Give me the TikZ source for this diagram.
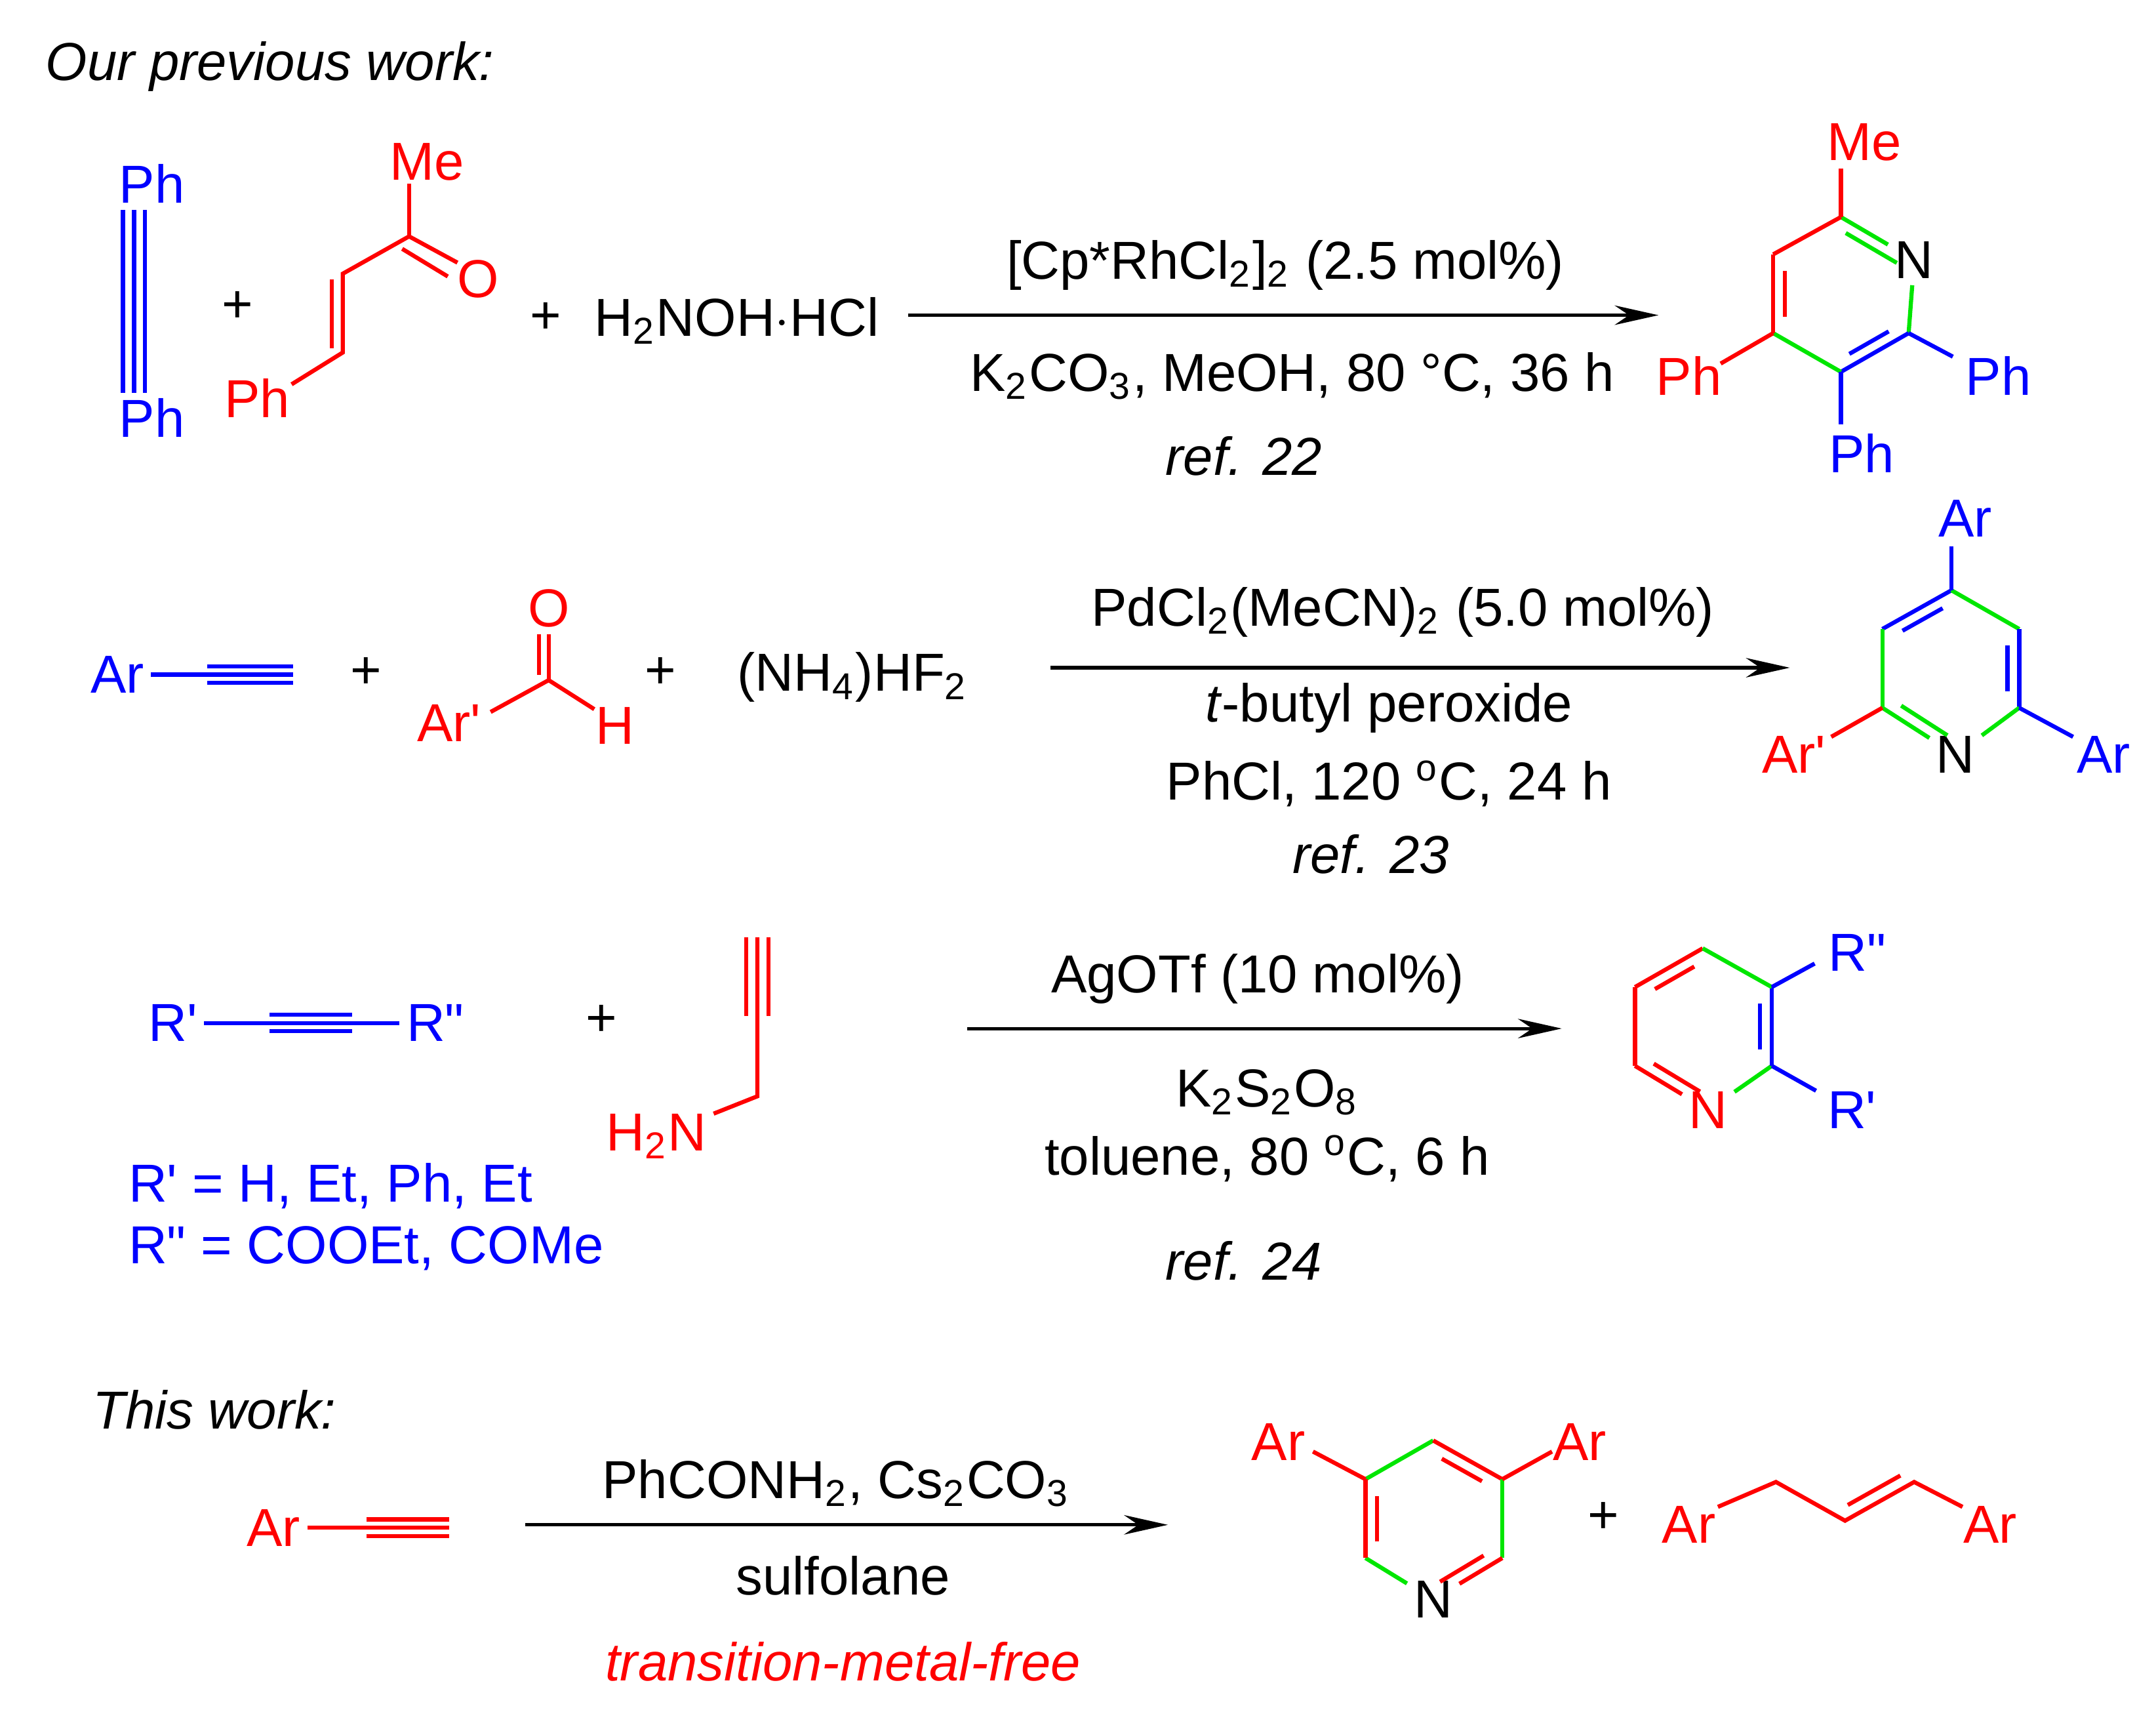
\documentclass[tikz,border=0pt]{standalone}
\usepackage{fontspec}
\setmainfont{Liberation Sans}[Ligatures=TeXOff]
\usetikzlibrary{calc,arrows.meta}
\definecolor{cr}{RGB}{255,0,0}
\definecolor{cb}{RGB}{0,0,255}
\definecolor{cg}{RGB}{0,230,0}
\newcommand\innerb[5]{\draw[#5] ($($(#1)!#4!(#2)$)!0.17!(#3)$) -- ($($(#2)!#4!(#1)$)!0.17!(#3)$);}
\newcommand\sq{\symbol{39}}
\newcommand\dq{\symbol{34}}
\begin{document}
\begin{tikzpicture}[x=0.01cm,y=-0.01cm,line width=0.85pt,
  every node/.style={font=\fontsize{11}{13}\selectfont,inner sep=1pt},
  itl/.style={font=\fontsize{11}{13}\selectfont\itshape},
  rxn/.style={-{Stealth[length=9pt,width=4pt]},line width=0.7pt}]
\useasboundingbox (0,0) rectangle (1560,1249);
\node[itl,anchor=west] (t1) at (28,48) {Our previous work:};
% --- scheme 1
\node[cb] (ph1) at (110,133) {Ph};
\node[cb] (ph2) at (110,302) {Ph};
\foreach \d in {-8,0,8}{\draw[cb] (97+\d,152) -- (97+\d,284);}
\node (p1) at (172,222) {+};
\coordinate (c1) at (296,171); \coordinate (c2) at (248,198); \coordinate (c3) at (248,255);
\node[cr] (me1) at (309,117) {Me};
\node[cr] (o1) at (346,202) {O};
\node[cr] (ph3) at (186,288) {Ph};
\draw[cr] (c1) -- ++(0,-38);
\draw[cr] (c1) -- (331,190);
\draw[cr] ($(c1)+(-5,9)$) -- (324,200);
\draw[cr] (c1) -- (c2) -- (c3) -- (211,278);
\draw[cr] ($(c2)+(-8,4)$) -- ($(c3)+(-8,-3)$);
\node (p2) at (395,230) {+};
\node (hx) at (533,232) {H\textsubscript{2}NOH$\cdot$HCl};
\coordinate (a1s) at (657,228); \coordinate (a1e) at (1200,228);
\draw[rxn] (a1s) -- (a1e);
\node (r1a) at (930,192) {[Cp*RhCl\textsubscript{2}]\textsubscript{2} (2.5 mol\%)};
\node (r1b) at (935,272) {K\textsubscript{2}CO\textsubscript{3}, MeOH, 80 °C, 36 h};
\node[itl] (r1c) at (900,330) {ref. 22};
% pyridine 1
\coordinate (A) at (1332,157); \node (N1) at (1385,188) {N};
\coordinate (B) at (1381,241); \coordinate (C) at (1332,269); \coordinate (D) at (1283,241); \coordinate (E) at (1283,184);
\coordinate (P1) at (1332,213);
\draw[cg] (A) -- (N1); \draw[cg] (N1) -- (B);
\innerb{A}{N1}{P1}{0.08}{cg}
\draw[cb] (B) -- (C); \innerb{B}{C}{P1}{0.15}{cb}
\draw[cg] (C) -- (D);
\draw[cr] (D) -- (E); \innerb{D}{E}{P1}{0.15}{cr}
\draw[cr] (E) -- (A);
\node[cr] (me2) at (1349,103) {Me};
\draw[cr] (A) -- (1332,122);
\node[cr] (ph4) at (1222,272) {Ph};
\draw[cr] (D) -- (1245,263);
\node[cb] (ph5) at (1446,272) {Ph};
\draw[cb] (B) -- (1413,258);
\node[cb] (ph6) at (1347,328) {Ph};
\draw[cb] (C) -- (1332,307);
% --- scheme 2
\node[cb] (ar1) at (85,488) {Ar};
\draw[cb] (ar1) -- (150,488);
\foreach \d in {-6,0,6}{\draw[cb] (150,488+\d) -- (212,488+\d);}
\node (p3) at (265,487) {+};
\coordinate (cc) at (397,492);
\node[cr] (o2) at (397,440) {O};
\node[cr] (arp1) at (325,523) {Ar'};
\node[cr] (h1) at (445,525) {H};
\draw[cr] (cc) -- (o2); \draw[cr] ($(cc)+(-7,-4)$) -- ($(o2.south)+(-7,0)$);
\draw[cr] (cc) -- (355,515); \draw[cr] (cc) -- (430,513);
\node (p4) at (478,487) {+};
\node (nh) at (617,490) {(NH\textsubscript{4})HF\textsubscript{2}};
\coordinate (a2s) at (760,483); \coordinate (a2e) at (1295,483);
\draw[rxn] (a2s) -- (a2e);
\node (r2a) at (1015,443) {PdCl\textsubscript{2}(MeCN)\textsubscript{2} (5.0 mol\%)};
\node (r2b) at (1005,512) {\textit{t}-butyl peroxide};
\node (r2c) at (1005,567) {PhCl, 120 \textsuperscript{o}C, 24 h};
\node[itl] (r2d) at (992,618) {ref. 23};
% pyridine 2
\coordinate (T2) at (1412,427); \coordinate (UR2) at (1461,455); \coordinate (LR2) at (1461,512);
\node (N2) at (1415,546) {N}; \coordinate (LL2) at (1362,512); \coordinate (UL2) at (1362,455);
\coordinate (P2) at (1411,483);
\draw[cb] (T2) -- (UL2); \innerb{T2}{UL2}{P2}{0.15}{cb}
\draw[cg] (T2) -- (UR2);
\draw[cb] (UR2) -- (LR2); \innerb{UR2}{LR2}{P2}{0.15}{cb}
\draw[cg] (LR2) -- (N2);
\draw[cg] (LL2) -- (N2); \innerb{LL2}{N2}{P2}{0.12}{cg}
\draw[cg] (LL2) -- (UL2);
\node[cb] (ar2) at (1422,375) {Ar};
\draw[cb] (T2) -- (1412,395);
\node[cr] (arp2) at (1298,546) {Ar'};
\draw[cr] (LL2) -- (1325,533);
\node[cb] (ar3) at (1522,546) {Ar};
\draw[cb] (LR2) -- (1500,533);
% --- scheme 3
\node[cb] (rp) at (125,740) {R'};
\node[cb] (rpp) at (315,740) {R"};
\draw[cb] (rp) -- (rpp);
\draw[cb] (195,734) -- (255,734); \draw[cb] (195,746) -- (255,746);
\node (p5) at (435,738) {+};
\node[cr] (h2n) at (475,822) {H\textsubscript{2}N};
\draw[cr] (h2n) -- (548,793) -- (548,678);
\draw[cr] (540,678) -- (540,735); \draw[cr] (556,678) -- (556,735);
\node[cb,anchor=west] (d1) at (88,858) {R' = H, Et, Ph, Et};
\node[cb,anchor=west] (d2) at (88,903) {R" = COOEt, COMe};
\coordinate (a3s) at (700,744); \coordinate (a3e) at (1130,744);
\draw[rxn] (a3s) -- (a3e);
\node (r3a) at (910,708) {AgOTf (10 mol\%)};
\node (r3b) at (917,790) {K\textsubscript{2}S\textsubscript{2}O\textsubscript{8}};
\node (r3c) at (917,838) {toluene, 80 \textsuperscript{o}C, 6 h};
\node[itl] (r3d) at (900,912) {ref. 24};
% pyridine 3
\coordinate (T3) at (1232,686); \coordinate (UR3) at (1282,714); \coordinate (LR3) at (1282,771);
\node[cr] (N3) at (1236,803) {N}; \coordinate (LL3) at (1183,771); \coordinate (UL3) at (1183,714);
\coordinate (P3) at (1232,743);
\draw[cr] (T3) -- (UL3); \innerb{T3}{UL3}{P3}{0.15}{cr}
\draw[cr] (UL3) -- (LL3);
\draw[cr] (LL3) -- (N3); \innerb{LL3}{N3}{P3}{0.12}{cr}
\draw[cg] (N3) -- (LR3);
\draw[cb] (LR3) -- (UR3); \innerb{LR3}{UR3}{P3}{0.15}{cb}
\draw[cg] (UR3) -- (T3);
\node[cb] (rpp2) at (1344,689) {R"};
\draw[cb] (UR3) -- (1313,697);
\node[cb] (rp2) at (1340,803) {R'};
\draw[cb] (LR3) -- (1314,789);
% --- this work
\node[itl,anchor=west] (t2) at (62,1020) {This work:};
\node[cr] (ar4) at (198,1105) {Ar};
\draw[cr] (ar4) -- (265,1105);
\foreach \d in {-6,0,6}{\draw[cr] (265,1105+\d) -- (325,1105+\d);}
\coordinate (a4s) at (380,1103); \coordinate (a4e) at (845,1103);
\draw[rxn] (a4s) -- (a4e);
\node (r4a) at (605,1073) {PhCONH\textsubscript{2}, Cs\textsubscript{2}CO\textsubscript{3}};
\node (r4b) at (610,1140) {sulfolane};
\node[cr,itl] (r4c) at (610,1202) {transition-metal-free};
% pyridine 4
\coordinate (T4) at (1037,1042); \coordinate (UR4) at (1087,1070); \coordinate (LR4) at (1087,1127);
\node (N4) at (1037,1157) {N}; \coordinate (LL4) at (988,1127); \coordinate (UL4) at (988,1070);
\coordinate (P4) at (1037,1099);
\draw[cg] (UL4) -- (T4);
\draw[cr] (T4) -- (UR4); \innerb{T4}{UR4}{P4}{0.15}{cr}
\draw[cg] (UR4) -- (LR4);
\draw[cr] (LR4) -- (N4); \innerb{LR4}{N4}{P4}{0.12}{cr}
\draw[cg] (N4) -- (LL4);
\draw[cr] (LL4) -- (UL4); \innerb{LL4}{UL4}{P4}{0.15}{cr}
\node[cr] (ar5) at (925,1043) {Ar};
\draw[cr] (UL4) -- (950,1050);
\node[cr] (ar6) at (1143,1043) {Ar};
\draw[cr] (UR4) -- (1123,1050);
\node (p6) at (1160,1098) {+};
\node[cr] (ar7) at (1222,1103) {Ar};
\node[cr] (ar8) at (1440,1103) {Ar};
\coordinate (q1) at (1285,1072); \coordinate (q2) at (1335,1100); \coordinate (q3) at (1385,1072);
\draw[cr,line join=miter] (1243,1090) -- (q1) -- (q2) -- (q3) -- (1420,1090);
\draw[cr] ($(q2)!0.12!(q3)+(-4,-8)$) -- ($(q3)!0.12!(q2)+(-4,-8)$);
\end{tikzpicture}
\end{document}
